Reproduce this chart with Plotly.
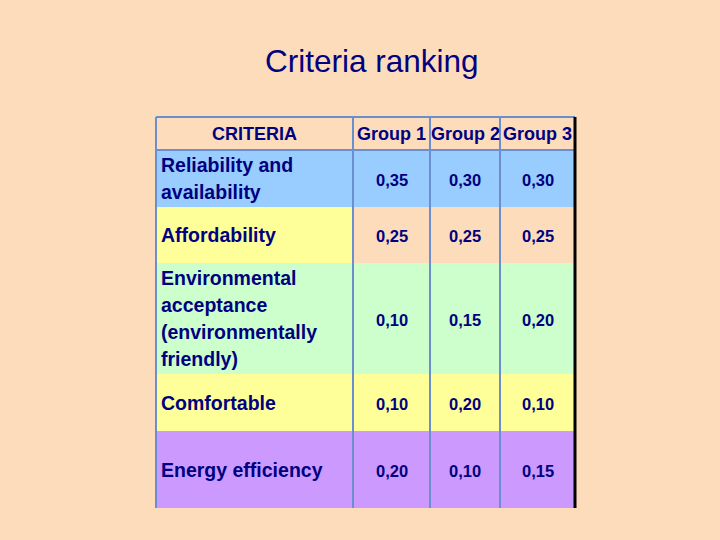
import plotly.graph_objects as go

# ---- data ----
title_text = "Criteria ranking"
header = ["CRITERIA", "Group 1", "Group 2", "Group 3"]
criteria = [
    ["Reliability and", "availability"],
    ["Affordability"],
    ["Environmental", "acceptance", "(environmentally", "friendly)"],
    ["Comfortable"],
    ["Energy efficiency"],
]
group1 = [0.35, 0.25, 0.10, 0.10, 0.20]
group2 = [0.30, 0.25, 0.15, 0.20, 0.10]
group3 = [0.30, 0.25, 0.20, 0.10, 0.15]

# fill codes: 0 peach, 1 blue, 2 yellow, 3 green, 4 purple
criteria_fill = [1, 2, 3, 2, 4]
group_fill = [1, 0, 3, 2, 4]

# ---- layout / style ----
W, H = 720, 540
BG = "#FCDCBA"
palette = [BG, "#99CCFF", "#FFFF99", "#CCFFCC", "#CC99FF"]
NAVY = "#000080"
GRID = "#6A8ECE"
FONT = "Arial, Liberation Sans, sans-serif"

col_edges = [156, 353, 430, 500, 575]
row_edges = [117, 150, 207, 263, 374, 431, 508]
label_pad = 3
line_gap = 27.3

groups = [group1, group2, group3]

# z matrix (rows: header + data rows; cols: criteria + groups)
z = [[0, 0, 0, 0]]
for i in range(len(criteria)):
    z.append([criteria_fill[i]] + [group_fill[i]] * len(groups))

n = len(palette)
colorscale = []
for i, c in enumerate(palette):
    colorscale.append([i / n, c])
    colorscale.append([(i + 1) / n, c])

fig = go.Figure()
fig.add_trace(go.Heatmap(
    x=col_edges, y=row_edges, z=z,
    colorscale=colorscale, zmin=-0.5, zmax=n - 0.5,
    showscale=False, hoverinfo="skip",
))

def cx(j):
    return (col_edges[j] + col_edges[j + 1]) / 2

def cy(i):
    return (row_edges[i] + row_edges[i + 1]) / 2

ann = []
# title
ann.append(dict(x=371.5, y=61, text=title_text, showarrow=False,
                font=dict(family=FONT, size=31.5, color=NAVY),
                xanchor="center", yanchor="middle"))
# header
for j, h in enumerate(header):
    ann.append(dict(x=cx(j), y=cy(0), text=f"<b>{h}</b>", showarrow=False,
                    font=dict(family=FONT, size=18, color=NAVY),
                    xanchor="center", yanchor="middle"))
# criteria labels (each line placed with custom line spacing)
for i, lines in enumerate(criteria):
    k = len(lines)
    for li, t in enumerate(lines):
        ann.append(dict(x=col_edges[0] + label_pad, y=cy(i + 1), text=f"<b>{t}</b>",
                        showarrow=False, yshift=-(li - (k - 1) / 2) * line_gap,
                        font=dict(family=FONT, size=19.5, color=NAVY),
                        xanchor="left", yanchor="middle"))
# values
for j, g in enumerate(groups):
    for i, v in enumerate(g):
        ann.append(dict(x=cx(j + 1), y=cy(i + 1) + 1,
                        text="<b>" + f"{v:.2f}".replace(".", ",") + "</b>",
                        showarrow=False,
                        font=dict(family=FONT, size=16.5, color=NAVY),
                        xanchor="center", yanchor="middle"))

shapes = []
top, bottom = row_edges[0], row_edges[-1]
# vertical lines (all but right edge)
for xe in col_edges[:-1]:
    shapes.append(dict(type="line", xref="x", yref="y", x0=xe, x1=xe, y0=top, y1=bottom,
                       line=dict(color=GRID, width=2)))
# top border and header bottom line
for ye in row_edges[:2]:
    shapes.append(dict(type="line", xref="x", yref="y", x0=col_edges[0], x1=col_edges[-1],
                       y0=ye, y1=ye, line=dict(color=GRID, width=2)))
# right border (black, thick)
shapes.append(dict(type="line", xref="x", yref="y", x0=col_edges[-1], x1=col_edges[-1],
                   y0=top, y1=bottom, line=dict(color="#000000", width=3)))

fig.update_layout(
    width=W, height=H,
    margin=dict(l=0, r=0, t=0, b=0),
    paper_bgcolor=BG, plot_bgcolor=BG,
    xaxis=dict(range=[0, W], visible=False, fixedrange=True),
    yaxis=dict(range=[H, 0], visible=False, fixedrange=True),
    annotations=ann, shapes=shapes,
    showlegend=False,
)

fig.write_html(
    "out.html",
    config={"displayModeBar": False},
    post_script="document.body.style.margin='0';document.body.style.overflow='hidden';",
)
